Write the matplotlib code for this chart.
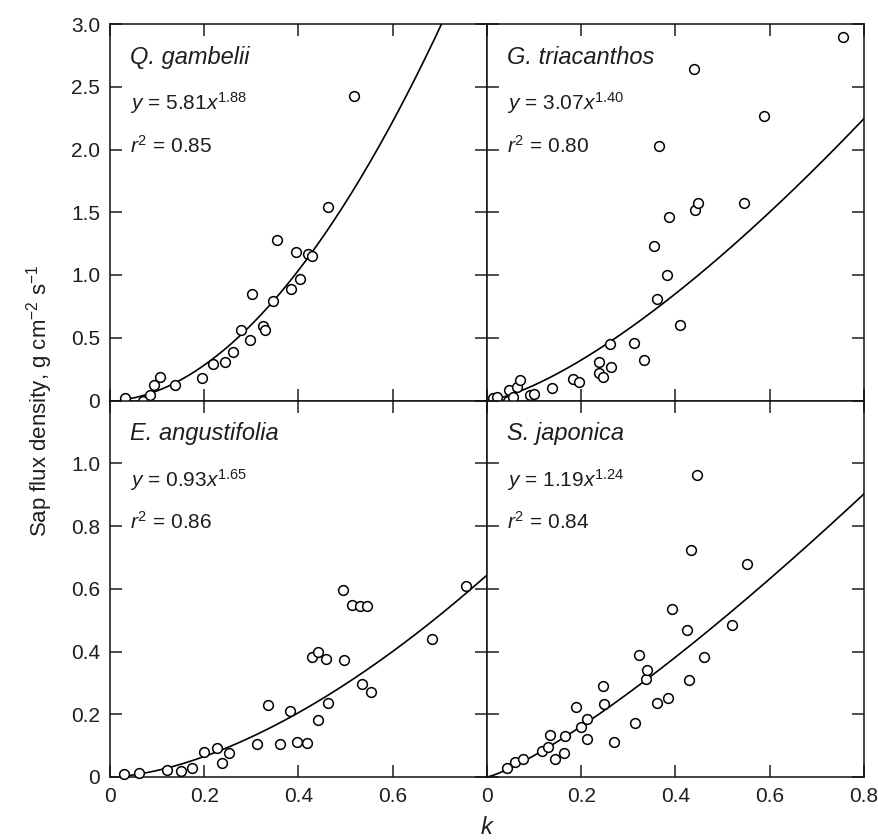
import matplotlib
matplotlib.use('Agg')
import matplotlib.pyplot as plt
import numpy as np

plt.rcParams['font.family'] = 'Liberation Sans'
plt.rcParams['mathtext.fontset'] = 'custom'
plt.rcParams['mathtext.rm'] = 'Liberation Sans'
plt.rcParams['mathtext.it'] = 'Liberation Sans:italic'
plt.rcParams['axes.linewidth'] = 1.1

TEXT = '#1e1e1e'

# Q. gambelii
qg_k = [0.032, 0.069, 0.085, 0.093, 0.106, 0.138, 0.195, 0.219, 0.244, 0.262, 0.277, 0.297,
        0.301, 0.325, 0.328, 0.345, 0.355, 0.384, 0.395, 0.403, 0.421, 0.429, 0.462, 0.518]
qg_sap = [0.02, 0.00, 0.04, 0.12, 0.19, 0.12, 0.18, 0.29, 0.31, 0.39, 0.565, 0.48,
          0.85, 0.59, 0.56, 0.79, 1.28, 0.89, 1.18, 0.97, 1.17, 1.15, 1.54, 2.43]

# G. triacanthos
gt_k = [0.013, 0.022, 0.045, 0.047, 0.056, 0.063, 0.069, 0.091, 0.100, 0.137, 0.183, 0.196,
        0.238, 0.247, 0.238, 0.263, 0.261, 0.311, 0.334, 0.354, 0.360, 0.365, 0.383, 0.386,
        0.410, 0.439, 0.441, 0.448, 0.545, 0.588, 0.755]
gt_sap = [0.02, 0.03, 0.00, 0.08, 0.03, 0.11, 0.16, 0.045, 0.05, 0.10, 0.17, 0.15,
          0.22, 0.19, 0.31, 0.27, 0.45, 0.46, 0.32, 1.23, 0.81, 2.03, 1.00, 1.46,
          0.60, 2.64, 1.52, 1.57, 1.57, 2.27, 2.90]

# E. angustifolia
ea_k = [0.030, 0.062, 0.120, 0.151, 0.175, 0.200, 0.228, 0.237, 0.253, 0.311, 0.336, 0.361,
        0.382, 0.396, 0.419, 0.428, 0.442, 0.442, 0.458, 0.463, 0.494, 0.496, 0.514, 0.531,
        0.534, 0.546, 0.554, 0.684, 0.755]
ea_sap = [0.010, 0.012, 0.022, 0.020, 0.029, 0.081, 0.092, 0.044, 0.075, 0.104, 0.230, 0.104,
          0.210, 0.112, 0.107, 0.382, 0.400, 0.182, 0.375, 0.237, 0.596, 0.373, 0.549, 0.546,
          0.297, 0.546, 0.272, 0.440, 0.609]

# S. japonica
sj_k = [0.042, 0.059, 0.076, 0.116, 0.130, 0.134, 0.144, 0.164, 0.166, 0.189, 0.199, 0.212,
        0.213, 0.247, 0.248, 0.270, 0.315, 0.323, 0.337, 0.339, 0.360, 0.385, 0.392, 0.424,
        0.429, 0.432, 0.446, 0.460, 0.519, 0.551]
sj_sap = [0.028, 0.047, 0.056, 0.084, 0.097, 0.134, 0.058, 0.075, 0.131, 0.222, 0.158, 0.184,
          0.121, 0.290, 0.232, 0.113, 0.173, 0.389, 0.313, 0.341, 0.237, 0.251, 0.535, 0.467,
          0.309, 0.722, 0.964, 0.384, 0.483, 0.678]

# fitted power laws y = a * k^b, and r^2
species = ['Q. gambelii', 'G. triacanthos', 'E. angustifolia', 'S. japonica']
coef_a = [5.81, 3.07, 0.93, 1.19]
coef_b = [1.88, 1.40, 1.65, 1.24]
r2 = [0.85, 0.80, 0.86, 0.84]
fit_start = [0.03, 0.013, 0.03, 0.0]

data = [(qg_k, qg_sap), (gt_k, gt_sap), (ea_k, ea_sap), (sj_k, sj_sap)]

fig = plt.figure(figsize=(8.79, 8.40), dpi=100)
gs = fig.add_gridspec(2, 2, left=110 / 879, right=864 / 879, top=1 - 24 / 840,
                      bottom=1 - 777 / 840, hspace=0, wspace=0)

for i in range(4):
    row, col = divmod(i, 2)
    ax = fig.add_subplot(gs[row, col])
    k, sap = data[i]

    xs = np.linspace(fit_start[i], 0.8, 200)
    ax.plot(xs, coef_a[i] * xs ** coef_b[i], color='black', lw=1.2, zorder=2)
    ax.plot(k, sap, 'o', ms=7, mfc='white', mec='black', mew=1.1, clip_on=False, zorder=3)

    ax.set_xlim(0, 0.8)
    ax.set_xticks([0, 0.2, 0.4, 0.6, 0.8])
    if row == 0:
        ax.set_ylim(0, 3.0)
        ax.set_yticks([0, 0.5, 1.0, 1.5, 2.0, 2.5, 3.0])
        ax.set_yticklabels(['0', '0.5', '1.0', '1.5', '2.0', '2.5', '3.0'])
    else:
        ax.set_ylim(0, 1.2)
        ax.set_yticks([0, 0.2, 0.4, 0.6, 0.8, 1.0, 1.2])
        ax.set_yticklabels(['0', '0.2', '0.4', '0.6', '0.8', '1.0', ''])

    if col == 0:
        ax.set_xticklabels(['0', '0.2', '0.4', '0.6', ''])
    else:
        ax.set_xticklabels(['0', '0.2', '0.4', '0.6', '0.8'])

    ax.tick_params(direction='in', length=8.5, width=1.1, top=True, right=True,
                   labelsize=15, pad=7, colors=TEXT)
    ax.tick_params(labelbottom=(row == 1), labelleft=(col == 0))
    for s in ax.spines.values():
        s.set_color('#111111')

    ax.text(0.053, 0.912, species[i], transform=ax.transAxes, fontsize=17,
            style='italic', va='center', ha='left', color=TEXT)
    ax.text(0.053, 0.79, r'$y$ = %.2f$x^{%.2f}$' % (coef_a[i], coef_b[i]),
            transform=ax.transAxes, fontsize=15, va='center', ha='left', color=TEXT)
    ax.text(0.053, 0.677, r'$r^2$ = %.2f' % r2[i], transform=ax.transAxes,
            fontsize=15, va='center', ha='left', color=TEXT)

fig.text(0.045, 0.523, r'Sap flux density, g cm$^{-2}$ s$^{-1}$', rotation=90,
         ha='center', va='center', fontsize=16, color=TEXT)
fig.text(0.554, 0.014, '$k$', ha='center', va='center', fontsize=17, color=TEXT)

plt.savefig('out.png', dpi=100)
